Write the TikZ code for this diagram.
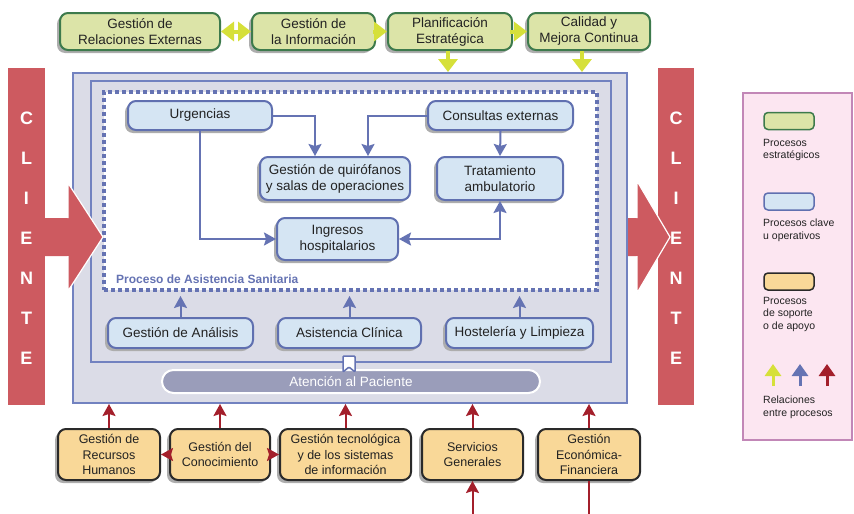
\documentclass[tikz,border=0pt]{standalone}
\usepackage{fontspec}
\setmainfont{Liberation Sans}
\usetikzlibrary{arrows.meta,shadows}

\definecolor{grnfill}{HTML}{DCE4A8}
\definecolor{grnline}{HTML}{3D7A4C}
\definecolor{bluefill}{HTML}{D5E5F3}
\definecolor{blueline}{HTML}{6070B0}
\definecolor{orgfill}{HTML}{F9D898}
\definecolor{orgline}{HTML}{2A2A2A}
\definecolor{panel}{HTML}{DBDCE7}
\definecolor{panelline}{HTML}{7282C0}
\definecolor{clientred}{HTML}{CD5A60}
\definecolor{relred}{HTML}{A31F2B}
\definecolor{relyellow}{HTML}{D6E03A}
\definecolor{relblue}{HTML}{6573B3}
\definecolor{pillfill}{HTML}{9A9DBA}
\definecolor{legfill}{HTML}{FCE6F1}
\definecolor{legline}{HTML}{C287B7}
\definecolor{txt}{HTML}{222222}

\tikzset{
  boxshadow/.style={drop shadow={shadow xshift=-3pt, shadow yshift=-3pt, fill=black!32, opacity=1}},
  procbox/.style={rounded corners=8pt, line width=2pt, align=center, inner sep=0pt,
    text=txt, font=\fontsize{13.5}{16}\selectfont, boxshadow},
  grnbox/.style={procbox, fill=grnfill, draw=grnline},
  bluebox/.style={procbox, fill=bluefill, draw=blueline},
  orgbox/.style={procbox, fill=orgfill, draw=orgline, font=\fontsize{12.5}{15.5}\selectfont},
  panelbox/.style={fill=panel, draw=panelline, line width=2pt, inner sep=0pt},
  dashbox/.style={fill=white, draw=relblue, line width=4pt, dash pattern=on 4pt off 3pt, inner sep=0pt},
  pill/.style={rounded corners=11.5pt, fill=pillfill, draw=white, line width=2pt, text=white,
    inner sep=0pt, font=\fontsize{13.5}{16}\selectfont},
  yhead/.style={Triangle[length=13pt,width=19pt]},
  yarrow/.style={draw=relyellow, line width=4pt, -{Triangle[length=13pt,width=19pt]}},
  yarrows/.style={draw=relyellow, line width=4pt, {Triangle[length=13pt,width=19pt]}-{Triangle[length=13pt,width=19pt]}},
  barrow/.style={draw=relblue, line width=2pt, -{Stealth[length=12pt,width=13pt,inset=2pt]}},
  barrows/.style={draw=relblue, line width=2pt, {Stealth[length=12pt,width=13pt,inset=2pt]}-{Stealth[length=12pt,width=13pt,inset=2pt]}},
  rarrow/.style={draw=relred, line width=2pt, -{Stealth[length=12pt,width=13pt,inset=2pt]}},
  rline/.style={draw=relred, line width=2pt},
  clientbar/.style={fill=clientred},
  clientletter/.style={text=white, font=\bfseries\fontsize{18}{18}\selectfont, inner sep=0pt},
  legtext/.style={anchor=north west, align=left, inner sep=0pt, text=txt,
    font=\fontsize{10.5}{12.5}\selectfont},
  legsample/.style={rounded corners=4pt, line width=1.5pt, minimum width=50pt, minimum height=17pt, inner sep=0pt},
  legarrow/.style={line width=3pt, -{Triangle[length=12pt,width=16pt]}},
}

\begin{document}
\begin{tikzpicture}[x=1pt,y=-1pt]
\useasboundingbox (0,0) rectangle (854,514);

% ---- strategic processes ----
\node[grnbox, minimum width=160pt, minimum height=37pt] (g1) at (140,31.5) {Gestión de\\Relaciones Externas};
\node[grnbox, minimum width=123pt, minimum height=37pt] (g2) at (313.5,31.5) {Gestión de\\la Información};
\node[grnbox, minimum width=124pt, minimum height=37pt] (g3) at (450,31.5) {Planificación\\Estratégica};
\node[grnbox, minimum width=122pt, minimum height=37pt] (g4) at (589,31.5) {Calidad y\\Mejora Continua};

% ---- central panels ----
\node[panelbox, minimum width=554pt, minimum height=330pt] (outer) at (350,238) {};
\node[panelbox, line width=2.5pt, minimum width=520pt, minimum height=281pt] (inner) at (351,221.5) {};
\node[dashbox, minimum width=493pt, minimum height=198pt] (asist) at (350.5,191) {};
\node[anchor=base west, inner sep=0pt, text=relblue, font=\bfseries\fontsize{12}{14}\selectfont]
  (asistlabel) at (116,283) {Proceso de Asistencia Sanitaria};

% strategic relations
\draw[yarrows] (g1.east) -- (g2.west);
\draw[yarrow] ([xshift=-3pt]g2.east) -- (g3.west);
\draw[yarrow] ([xshift=-3pt]g3.east) -- (g4.west);
\draw[yarrow] (g3.south -| 448,0) -- (outer.north -| 448,0);
\draw[yarrow] (g4.south -| 582,0) -- (outer.north -| 582,0);

% ---- key processes ----
\node[bluebox, minimum width=144pt, minimum height=29pt] (urg) at (200,115.5) {Urgencias};
\node[bluebox, minimum width=145pt, minimum height=29pt] (cons) at (500.5,115.5) {Consultas externas};
\node[bluebox, minimum width=150pt, minimum height=43pt] (quir) at (335,178.5) {Gestión de quirófanos\\y salas de operaciones};
\node[bluebox, minimum width=126pt, minimum height=43pt] (trat) at (500,178.5) {Tratamiento\\ambulatorio};
\node[bluebox, minimum width=121pt, minimum height=42pt] (ingr) at (337.5,239) {Ingresos\\hospitalarios};
\node[bluebox, minimum width=145pt, minimum height=30pt] (anal) at (180.5,333) {Gestión de Análisis};
\node[bluebox, minimum width=143pt, minimum height=30pt] (clin) at (349.5,333) {Asistencia Clínica};
\node[bluebox, minimum width=147pt, minimum height=30pt] (host) at (519.5,333) {Hostelería y Limpieza};

\draw[barrow] (urg.east) -| (quir.north -| 315,0);
\draw[barrow] (cons.west) -| (quir.north -| 368,0);
\draw[barrow] (cons.south) -- (trat.north);
\draw[barrow] (urg.south) |- (ingr.west);
\draw[barrows] (trat.south) |- (ingr.east);
\draw[barrow, shorten >=4pt] (anal.north) -- (asist.south -| anal.north);
\draw[barrow, shorten >=4pt] (clin.north) -- (asist.south -| clin.north);
\draw[barrow, shorten >=4pt] (host.north) -- (asist.south -| host.north);

% patient care bar and its link
\node[pill, minimum width=378pt, minimum height=23pt] (aten) at (351,381.5) {Atención al Paciente};
\draw[fill=white, draw=relblue, line width=1.5pt, rounded corners=1pt]
  (343,372) -- (343,356) -- (355,356) -- (355,372) -- (349,367) -- cycle;

% ---- client bars ----
\fill[clientbar] (8,68) rectangle (45,405);
\fill[clientbar] (658,68) rectangle (694,405);
% arrow entering
\fill[clientred] (45,218) -- (68,218) -- (68,183) -- (103,237) -- (68,291) -- (68,256) -- (45,256);
\draw[white, line width=1.2pt, line join=miter] (68,218) -- (68,183) -- (103,237) -- (68,291) -- (68,256);
% arrow leaving
\fill[clientred] (628,218) -- (637,218) -- (637,181) -- (670,237) -- (637,293) -- (637,256) -- (628,256);
\draw[white, line width=1.2pt, line join=miter] (637,218) -- (637,181) -- (670,237) -- (637,293) -- (637,256);
\foreach \ch [count=\k from 0] in {C,L,I,E,N,T,E} {
  \node[clientletter] (lcl\k) at (26.5,118+40*\k) {\ch};
  \node[clientletter] (rcl\k) at (676,118+40*\k) {\ch};
}

% ---- support processes ----
\node[orgbox, minimum width=102pt, minimum height=51pt] (o1) at (109,454.5) {Gestión de\\Recursos\\Humanos};
\node[orgbox, minimum width=100pt, minimum height=51pt] (o2) at (220,454.5) {Gestión del\\Conocimiento};
\node[orgbox, minimum width=131pt, minimum height=51pt] (o3) at (345.5,454.5) {Gestión tecnológica\\y de los sistemas\\de información};
\node[orgbox, minimum width=101pt, minimum height=51pt] (o4) at (472.5,454.5) {Servicios\\Generales};
\node[orgbox, minimum width=102pt, minimum height=51pt] (o5) at (589,454.5) {Gestión\\Económica-\\Financiera};

\foreach \n in {o1,o2,o3,o4,o5}
  \draw[rarrow] (\n.north) -- (outer.south -| \n.north);
\draw[rarrow] ([xshift=2pt]o2.west) -- (o1.east);
\draw[rarrow] ([xshift=-2pt]o2.east) -- (o3.west);
\coordinate (in4) at (472.5,514);
\coordinate (out5) at (589,514);
\draw[rarrow] (in4) -- (o4.south);
\draw[rline] (o5.south) -- (out5);

% ---- legend ----
\node[draw=legline, fill=legfill, line width=1.5pt, minimum width=109pt, minimum height=347pt, inner sep=0pt]
  (legend) at (797.5,266.5) {};
\node[legsample, fill=grnfill, draw=grnline] (lg) at (789,121) {};
\node[legtext] (lgt) at (763,139) {Procesos\\estratégicos};
\node[legsample, fill=bluefill, draw=blueline] (lb) at (789,201.5) {};
\node[legtext] (lbt) at (763,219) {Procesos clave\\u operativos};
\node[legsample, fill=orgfill, draw=orgline] (lo) at (789,281.5) {};
\node[legtext] (lot) at (763,297) {Procesos\\de soporte\\o de apoyo};
\coordinate (ly0) at (773,386); \coordinate (ly1) at (773,364);
\coordinate (lb0) at (800,386); \coordinate (lb1) at (800,364);
\coordinate (lr0) at (827,386); \coordinate (lr1) at (827,364);
\draw[legarrow, draw=relyellow] (ly0) -- (ly1);
\draw[legarrow, draw=relblue] (lb0) -- (lb1);
\draw[legarrow, draw=relred] (lr0) -- (lr1);
\node[legtext] (lat) at (763,396) {Relaciones\\entre procesos};

\end{tikzpicture}
\end{document}
